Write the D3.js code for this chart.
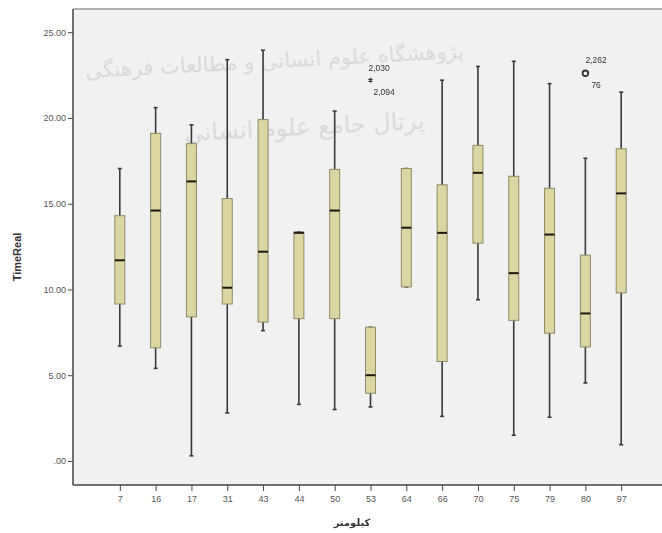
<!DOCTYPE html>
<html>
<head>
<meta charset="utf-8">
<script src="https://cdn.jsdelivr.net/npm/d3@7"></script>
<style>
  body { margin: 0; background: #fff; }
  svg { display: block; }
  .tick text { font-family: "Liberation Sans", Arial, sans-serif; font-size: 9px; fill: #555; }
  .tick line, .domain { stroke: #444; }
</style>
</head>
<body>
<div id="chart"></div>
<script>
// categories (کیلومتر) and box statistics of TimeReal
const categories = ['7', '16', '17', '31', '43', '44', '50', '53', '64', '66', '70', '75', '79', '80', '97'];
const whiskerLow = [6.7, 5.4, 0.3, 2.8, 7.6, 3.3, 3.0, 3.15, 10.15, 2.6, 9.4, 1.5, 2.55, 4.55, 0.95];
const q1 = [9.15, 6.6, 8.4, 9.15, 8.1, 8.3, 8.3, 3.95, 10.15, 5.8, 12.7, 8.2, 7.45, 6.65, 9.8];
const median = [11.7, 14.6, 16.3, 10.1, 12.2, 13.3, 14.6, 5.0, 13.6, 13.3, 16.8, 10.95, 13.2, 8.6, 15.6];
const q3 = [14.3, 19.1, 18.5, 15.3, 19.9, 13.35, 17.0, 7.8, 17.05, 16.1, 18.4, 16.6, 15.9, 12.0, 18.2];
const whiskerHigh = [17.05, 20.6, 19.6, 23.4, 23.95, 13.35, 20.4, 7.8, 17.05, 22.2, 23.0, 23.3, 22.0, 17.65, 21.5];
// outliers: category, value, type, labels
const outliers = [
  { cat: '53', value: 22.2, kind: 'extreme', labels: ['2,030', '2,094'] },
  { cat: '80', value: 22.6, kind: 'outlier', labels: ['2,262', '76'] }
];
const yTicks = [0, 5, 10, 15, 20, 25];

const width = 662, height = 533;
const margin = { top: 9, right: 0, bottom: 48, left: 73 };

const svg = d3.select('#chart').append('svg')
  .attr('width', width)
  .attr('height', height);

const x = d3.scalePoint()
  .domain(categories)
  .range([84, 657])
  .padding(1);

const y = d3.scaleLinear()
  .domain([-1.4, 26.35])
  .range([height - margin.bottom, margin.top]);

// plot background
svg.append('rect')
  .attr('x', margin.left)
  .attr('y', margin.top)
  .attr('width', width - margin.right - margin.left)
  .attr('height', height - margin.bottom - margin.top)
  .attr('fill', '#f1f1f1');

// top frame line
svg.append('line')
  .attr('x1', margin.left).attr('x2', width)
  .attr('y1', margin.top).attr('y2', margin.top)
  .attr('stroke', '#999').attr('stroke-width', 1.5);

// faint watermark text
const wm = svg.append('g')
  .attr('font-family', 'DejaVu Sans, sans-serif')
  .attr('fill', '#c4c4c4')
  .attr('opacity', 0.55);
wm.append('text')
  .attr('x', 275).attr('y', 68)
  .attr('text-anchor', 'middle')
  .attr('font-size', 21)
  .attr('transform', 'rotate(-3 275 68)')
  .text('پژوهشگاه علوم انسانی و مطالعات فرهنگی');
wm.append('text')
  .attr('x', 305).attr('y', 135)
  .attr('text-anchor', 'middle')
  .attr('font-size', 24)
  .attr('transform', 'rotate(-3 305 135)')
  .text('پرتال جامع علوم انسانی');

// axes
const yAxis = svg.append('g')
  .attr('transform', `translate(${margin.left},0)`)
  .call(d3.axisLeft(y).tickValues(yTicks).tickSize(5).tickPadding(2)
    .tickFormat(d => d === 0 ? '.00' : d3.format('.2f')(d)));
yAxis.select('.domain').attr('d', `M0,${margin.top}V${height - margin.bottom}`).attr('stroke-width', 1.5);

const xAxis = svg.append('g')
  .attr('transform', `translate(0,${height - margin.bottom})`)
  .call(d3.axisBottom(x).tickSize(6).tickPadding(5));
xAxis.select('.domain').attr('d', `M${margin.left},0H${width}`).attr('stroke-width', 1.5);

// axis titles
svg.append('text')
  .attr('transform', `translate(21,${(margin.top + height - margin.bottom) / 2 + 10}) rotate(-90)`)
  .attr('text-anchor', 'middle')
  .attr('font-family', 'Liberation Sans, Arial, sans-serif')
  .attr('font-size', 11)
  .attr('font-weight', 'bold')
  .attr('fill', '#333')
  .text('TimeReal');

svg.append('text')
  .attr('x', 352).attr('y', 526)
  .attr('text-anchor', 'middle')
  .attr('font-family', 'DejaVu Sans, sans-serif')
  .attr('font-size', 10)
  .attr('font-weight', 'bold')
  .attr('fill', '#333')
  .text('کیلومتر');

// boxes
const boxW = 10, capW = 4;
const boxes = svg.append('g');
categories.forEach((c, i) => {
  const cx = x(c);
  const g = boxes.append('g');
  // whisker line
  g.append('line')
    .attr('x1', cx).attr('x2', cx)
    .attr('y1', y(whiskerLow[i])).attr('y2', y(whiskerHigh[i]))
    .attr('stroke', '#3a3a3a').attr('stroke-width', 1.6);
  // caps
  [whiskerLow[i], whiskerHigh[i]].forEach(v => {
    g.append('line')
      .attr('x1', cx - capW / 2).attr('x2', cx + capW / 2)
      .attr('y1', y(v)).attr('y2', y(v))
      .attr('stroke', '#3a3a3a').attr('stroke-width', 1.6);
  });
  // box
  g.append('rect')
    .attr('x', cx - boxW / 2)
    .attr('y', y(q3[i]))
    .attr('width', boxW)
    .attr('height', Math.max(1, y(q1[i]) - y(q3[i])))
    .attr('fill', '#dad7a3')
    .attr('stroke', '#8e8b68')
    .attr('stroke-width', 1);
  // median
  g.append('line')
    .attr('x1', cx - boxW / 2).attr('x2', cx + boxW / 2)
    .attr('y1', y(median[i])).attr('y2', y(median[i]))
    .attr('stroke', '#1a1a10').attr('stroke-width', 2);
});

// outliers
outliers.forEach(o => {
  const cx = x(o.cat), cy = y(o.value);
  if (o.kind === 'extreme') {
    svg.append('path')
      .attr('d', d3.symbol(d3.symbolAsterisk || d3.symbolCross, 16)())
      .attr('transform', `translate(${cx},${cy})`)
      .attr('fill', '#333').attr('stroke', '#333').attr('stroke-width', 1.2);
    svg.append('text')
      .attr('x', cx - 2).attr('y', cy - 9)
      .attr('font-family', 'Liberation Sans, Arial, sans-serif')
      .attr('font-size', 8.5).attr('fill', '#333')
      .text(o.labels[0]);
    svg.append('text')
      .attr('x', cx + 3).attr('y', cy + 15)
      .attr('font-family', 'Liberation Sans, Arial, sans-serif')
      .attr('font-size', 8.5).attr('fill', '#333')
      .text(o.labels[1]);
  } else {
    svg.append('circle')
      .attr('cx', cx).attr('cy', cy).attr('r', 2.8)
      .attr('fill', 'none').attr('stroke', '#333').attr('stroke-width', 1.8);
    svg.append('text')
      .attr('x', cx).attr('y', cy - 10)
      .attr('font-family', 'Liberation Sans, Arial, sans-serif')
      .attr('font-size', 8.5).attr('fill', '#333')
      .text(o.labels[0]);
    svg.append('text')
      .attr('x', cx + 6).attr('y', cy + 15)
      .attr('font-family', 'Liberation Sans, Arial, sans-serif')
      .attr('font-size', 8.5).attr('fill', '#333')
      .text(o.labels[1]);
  }
});
</script>
</body>
</html>
